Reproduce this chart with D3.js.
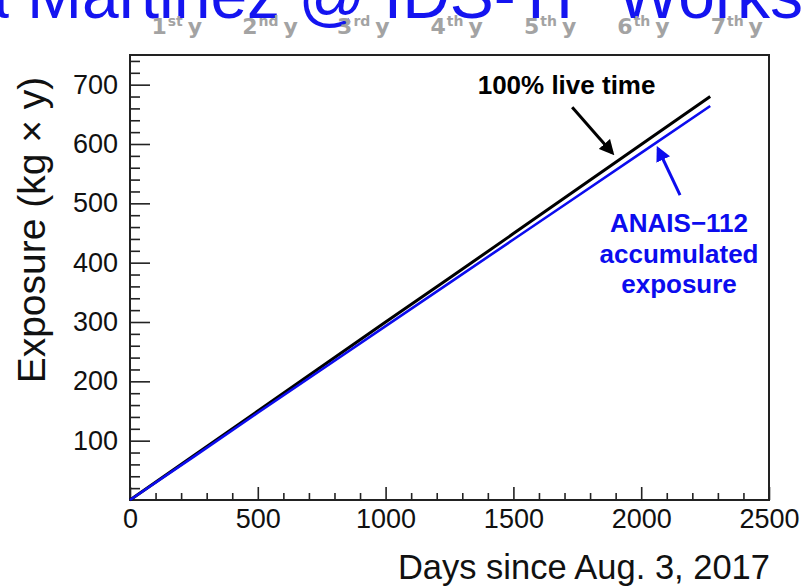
<!DOCTYPE html>
<html>
<head>
<meta charset="utf-8">
<script src="https://cdn.jsdelivr.net/npm/d3@7"></script>
<style>
  html, body { margin: 0; padding: 0; background: #fff; }
  svg { display: block; }
</style>
</head>
<body>
<svg id="chart" width="802" height="587"></svg>
<script>
// Accumulated exposure of ANAIS-112 versus days of data taking
const days      = [0, 250, 500, 750, 1000, 1250, 1500, 1750, 2000, 2270];
const liveTime  = [0, 75, 150, 225, 300, 374, 449, 524, 599, 680];   // 100% live time
const anais     = [0, 73, 147, 220, 293, 366, 439, 512, 585, 664];   // ANAIS-112 accumulated

const xTicks = [0, 500, 1000, 1500, 2000, 2500];
const yTicks = [100, 200, 300, 400, 500, 600, 700];

// year-of-operation labels, centred on each year (days)
const yearCentres = [183, 548, 913, 1278, 1644, 2009, 2374];
const yearNums    = ["1", "2", "3", "4", "5", "6", "7"];
const yearSups    = ["st", "nd", "rd", "th", "th", "th", "th"];

const svg = d3.select("#chart");
const x = d3.scaleLinear().domain([0, 2500]).range([130, 769]);
const y = d3.scaleLinear().domain([0, 750]).range([500, 55]);

const FONT = "'Liberation Sans', Arial, Helvetica, sans-serif";
const BLUE = "#0c0cee";

// talk banner (cut by the top edge)
svg.append("text")
  .attr("x", -160).attr("y", 18)
  .attr("font-family", FONT).attr("font-size", 66)
  .attr("fill", "#1414f0")
  .text("María Martinez @ IDS-TP Workshop");

// year labels: number, superscript suffix and "y" as separate pieces
const yl = svg.append("g")
  .attr("font-family", "'DejaVu Sans', Verdana, sans-serif")
  .attr("font-weight", "bold").attr("fill", "#a3a3a3");
yearCentres.forEach((d, i) => {
  const g = yl.append("g");
  const n = g.append("text").attr("y", 34).attr("font-size", 22).text(yearNums[i]);
  const s = g.append("text").attr("y", 26).attr("font-size", 14).text(yearSups[i]);
  const w = g.append("text").attr("y", 34).attr("font-size", 22).text("y");
  const wn = n.node().getComputedTextLength();
  const ws = s.node().getComputedTextLength();
  const wy = w.node().getComputedTextLength();
  const gap = 6;
  const total = wn + ws + gap + wy;
  const x0 = x(d) - total / 2;
  n.attr("x", x0);
  s.attr("x", x0 + wn + 1);
  w.attr("x", x0 + wn + ws + gap);
});

// frame
svg.append("rect")
  .attr("x", x(0)).attr("y", y(750))
  .attr("width", x(2500) - x(0)).attr("height", y(0) - y(750))
  .attr("fill", "none").attr("stroke", "#222").attr("stroke-width", 2);

// x axis: major and minor ticks pointing inward
const xMajor = d3.axisBottom(x).tickValues(xTicks).tickSize(-13).tickPadding(9)
  .tickFormat(d3.format("d"));
const xMinor = d3.axisBottom(x).tickValues(d3.range(100, 2500, 100).filter(v => v % 500))
  .tickSize(-7).tickFormat("");
const gx = svg.append("g").attr("transform", `translate(0,${y(0)})`).call(xMinor);
const gx2 = svg.append("g").attr("transform", `translate(0,${y(0)})`).call(xMajor);

// y axis
const yMajor = d3.axisLeft(y).tickValues(yTicks).tickSize(-20).tickPadding(12)
  .tickFormat(d3.format("d"));
const yMinor = d3.axisLeft(y).tickValues(d3.range(20, 750, 20).filter(v => v % 100))
  .tickSize(-10).tickFormat("");
const gy = svg.append("g").attr("transform", `translate(${x(0)},0)`).call(yMinor);
const gy2 = svg.append("g").attr("transform", `translate(${x(0)},0)`).call(yMajor);

[gx, gx2, gy, gy2].forEach(g => {
  g.select(".domain").remove();
  g.selectAll(".tick line").attr("stroke", "#222").attr("stroke-width", 1.6);
  g.selectAll(".tick text").attr("font-family", FONT).attr("font-size", 27).attr("fill", "#111");
});

// axis titles
svg.append("text")
  .attr("x", 770).attr("y", 579).attr("text-anchor", "end")
  .attr("font-family", FONT).attr("font-size", 34.5).attr("fill", "#111")
  .text("Days since Aug. 3, 2017");
svg.append("text")
  .attr("transform", "translate(45,230) rotate(-90)")
  .attr("text-anchor", "middle")
  .attr("font-family", FONT).attr("font-size", 39).attr("fill", "#111")
  .text("Exposure (kg \u00d7 y)");

// exposure curves
const line = vals => d3.line().x((d, i) => x(days[i])).y(d => y(d))(vals);
svg.append("path").attr("d", line(liveTime))
  .attr("fill", "none").attr("stroke", "#000").attr("stroke-width", 3);
svg.append("path").attr("d", line(anais))
  .attr("fill", "none").attr("stroke", BLUE).attr("stroke-width", 2.6);

// annotation arrows
const defs = svg.append("defs");
[["ahBlack", "#000"], ["ahBlue", BLUE]].forEach(([id, c]) => {
  defs.append("marker").attr("id", id)
    .attr("viewBox", "0 0 10 10").attr("refX", 8).attr("refY", 5)
    .attr("markerWidth", 5).attr("markerHeight", 5).attr("orient", "auto")
    .attr("markerUnits", "strokeWidth")
    .append("path").attr("d", "M0,0 L10,5 L0,10 z").attr("fill", c);
});
svg.append("line")
  .attr("x1", x(1730)).attr("y1", y(662)).attr("x2", x(1887)).attr("y2", y(585))
  .attr("stroke", "#000").attr("stroke-width", 3).attr("marker-end", "url(#ahBlack)");
svg.append("line")
  .attr("x1", x(2152)).attr("y1", y(514)).attr("x2", x(2066)).attr("y2", y(592))
  .attr("stroke", BLUE).attr("stroke-width", 3).attr("marker-end", "url(#ahBlue)");

// annotation text
svg.append("text")
  .attr("x", x(1708)).attr("y", y(684)).attr("text-anchor", "middle")
  .attr("font-family", FONT).attr("font-weight", "bold").attr("font-size", 26)
  .attr("fill", "#000").text("100% live time");
const blueLines = ["ANAIS\u2212112", "accumulated", "exposure"];
const blueY = [452, 399, 349];
blueLines.forEach((s, i) => {
  svg.append("text")
    .attr("x", x(2148)).attr("y", y(blueY[i])).attr("text-anchor", "middle")
    .attr("font-family", FONT).attr("font-weight", "bold").attr("font-size", 26)
    .attr("fill", BLUE).text(s);
});
</script>
</body>
</html>
